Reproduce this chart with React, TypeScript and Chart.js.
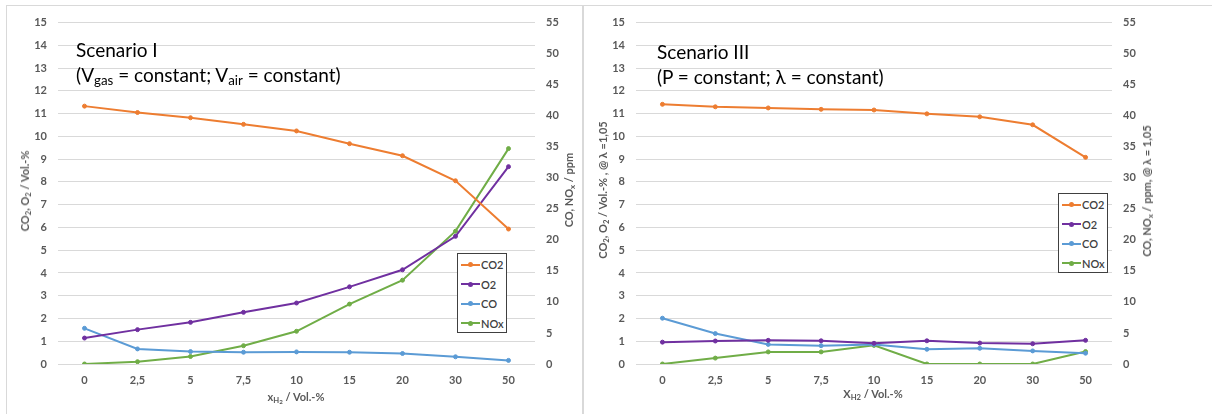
import React, { useEffect, useRef } from "react";
import { Chart, registerables } from "chart.js";
Chart.register(...registerables);

const categories = ["0", "2,5", "5", "7,5", "10", "15", "20", "30", "50"];

// Scenario I
const s1CO2 = [11.33, 11.05, 10.82, 10.53, 10.24, 9.68, 9.15, 8.05, 5.93];
const s1O2 = [1.14, 1.51, 1.83, 2.27, 2.68, 3.39, 4.14, 5.61, 8.67];
const s1CO = [5.75, 2.43, 2.0, 1.9, 1.95, 1.9, 1.69, 1.16, 0.58];
const s1NOx = [0, 0.37, 1.21, 2.95, 5.27, 9.65, 13.5, 21.4, 34.7];

// Scenario III
const s3CO2 = [11.41, 11.3, 11.25, 11.19, 11.16, 10.99, 10.86, 10.51, 9.08];
const s3O2 = [0.96, 1.01, 1.04, 1.02, 0.91, 1.02, 0.92, 0.89, 1.04];
const s3CO = [7.38, 4.9, 3.16, 2.95, 3.16, 2.37, 2.53, 2.11, 1.74];
const s3NOx = [0, 0.95, 1.95, 1.95, 3.0, 0, 0, 0, 2.0];

const seriesNames = ["CO2", "O2", "CO", "NOx"];
const seriesColors = ["#ED7D31", "#7030A0", "#5B9BD5", "#70AD47"];

const leftAxisMin = 0;
const leftAxisMax = 15;
const leftAxisStep = 1;
const rightAxisMin = 0;
const rightAxisMax = 55;
const rightAxisStep = 5;

const TICK_FONT = { family: "Lato", size: 11, weight: "bold" as const };
const TICK_COLOR = "#595959";

function makeConfig(co2: number[], o2: number[], co: number[], nox: number[], rightWidth: number) {
  const data = [co2, o2, co, nox];
  const axes = ["yL", "yL", "yR", "yR"];
  return {
    type: "line" as const,
    data: {
      labels: categories,
      datasets: data.map((d, i) => ({
        label: seriesNames[i],
        data: d,
        yAxisID: axes[i],
        borderColor: seriesColors[i],
        backgroundColor: seriesColors[i],
        pointBackgroundColor: seriesColors[i],
        pointBorderColor: seriesColors[i],
        borderWidth: 2,
        pointRadius: 2,
        pointBorderWidth: 1,
        tension: 0,
        fill: false,
      })),
    },
    options: {
      responsive: false,
      animation: false as const,
      devicePixelRatio: 1,
      layout: { padding: { top: 12, left: 0, right: 0, bottom: 0 } },
      plugins: { legend: { display: false }, tooltip: { enabled: false } },
      scales: {
        x: {
          type: "category" as const,
          offset: true,
          grid: { display: false, drawTicks: false },
          border: { display: false },
          ticks: { padding: 10, font: TICK_FONT, color: TICK_COLOR, maxRotation: 0, autoSkip: false },
          afterFit: (s: any) => {
            s.height = 50;
          },
        },
        yL: {
          type: "linear" as const,
          position: "left" as const,
          min: leftAxisMin,
          max: leftAxisMax,
          ticks: { stepSize: leftAxisStep, padding: 11, font: TICK_FONT, color: TICK_COLOR },
          grid: { color: "#D9D9D9", lineWidth: 1, drawTicks: false },
          border: { display: false },
          afterFit: (s: any) => {
            s.width = 52;
          },
        },
        yR: {
          type: "linear" as const,
          position: "right" as const,
          min: rightAxisMin,
          max: rightAxisMax,
          ticks: { stepSize: rightAxisStep, padding: 11, font: TICK_FONT, color: TICK_COLOR },
          grid: { display: false, drawTicks: false },
          border: { display: false },
          afterFit: (s: any) => {
            s.width = rightWidth;
          },
        },
      },
    },
  };
}

function ChartCanvas(props: { left: number; top: number; width: number; height: number; config: any }) {
  const ref = useRef<HTMLCanvasElement | null>(null);
  useEffect(() => {
    if (!ref.current) return;
    const chart = new Chart(ref.current, props.config);
    return () => chart.destroy();
  }, []);
  return (
    <canvas
      ref={ref}
      width={props.width}
      height={props.height}
      style={{ position: "absolute", left: props.left, top: props.top, width: props.width, height: props.height }}
    />
  );
}

function Legend(props: { left: number; top: number }) {
  return (
    <div
      style={{
        position: "absolute",
        left: props.left,
        top: props.top,
        width: 50,
        height: 80,
        border: "1px solid #404040",
        background: "#fff",
        boxSizing: "border-box",
        paddingTop: 1,
      }}
    >
      {seriesNames.map((n, i) => (
        <div key={n} style={{ height: 19.5, display: "flex", alignItems: "center", paddingLeft: 3 }}>
          <div style={{ position: "relative", width: 19, height: 2, background: seriesColors[i] }}>
            <div
              style={{
                position: "absolute",
                left: 7,
                top: -1.5,
                width: 5,
                height: 5,
                borderRadius: "50%",
                background: seriesColors[i],
              }}
            />
          </div>
          <span style={{ font: "11px Lato", fontWeight: 600, color: "#404040", marginLeft: 1 }}>{n}</span>
        </div>
      ))}
    </div>
  );
}

const titleStyle: React.CSSProperties = {
  position: "absolute",
  font: "bold 11px Lato",
  color: "#595959",
  whiteSpace: "nowrap",
  lineHeight: "14px",
};

function VTitle(props: { cx: number; cy: number; children: React.ReactNode }) {
  return (
    <div
      style={{
        ...titleStyle,
        left: props.cx,
        top: props.cy,
        transform: "translate(-50%, -50%) rotate(-90deg)",
      }}
    >
      {props.children}
    </div>
  );
}

function HTitle(props: { cx: number; cy: number; children: React.ReactNode }) {
  return (
    <div style={{ ...titleStyle, left: props.cx, top: props.cy, transform: "translate(-50%, -50%)" }}>
      {props.children}
    </div>
  );
}

const subS: React.CSSProperties = { fontSize: "0.7em", verticalAlign: "-0.25em", lineHeight: 0 };

function Scenario(props: { left: number; top: number; children: React.ReactNode }) {
  return (
    <div
      style={{
        position: "absolute",
        left: props.left,
        top: props.top,
        font: "19px Lato",
        color: "#000",
        lineHeight: "25px",
        whiteSpace: "nowrap",
      }}
    >
      {props.children}
    </div>
  );
}

export default function App() {
  const config1 = makeConfig(s1CO2, s1O2, s1CO, s1NOx, 48);
  const config3 = makeConfig(s3CO2, s3O2, s3CO, s3NOx, 100);
  return (
    <div style={{ position: "absolute", left: 0, top: 0, width: 1212, height: 414, overflow: "hidden", background: "#fff" }}>
      <div style={{ position: "absolute", left: 6, top: 5, width: 577, height: 420, border: "1px solid #D9D9D9", boxSizing: "border-box" }} />
      <div style={{ position: "absolute", left: 583, top: 5, width: 640, height: 420, border: "1px solid #D9D9D9", boxSizing: "border-box" }} />

      <ChartCanvas left={6} top={5} width={577} height={409} config={config1} />
      <ChartCanvas left={584} top={5} width={628} height={409} config={config3} />

      <Scenario left={76} top={37}>
        <div>Scenario I</div>
        <div>
          (V<sub style={subS}>gas</sub> = constant; V<sub style={subS}>air</sub> = constant)
        </div>
      </Scenario>
      <Scenario left={657} top={39}>
        <div>Scenario III</div>
        <div>(P = constant; λ = constant)</div>
      </Scenario>

      <VTitle cx={25} cy={191}>
        CO<sub style={subS}>2</sub>, O<sub style={subS}>2</sub> / Vol.-%
      </VTitle>
      <VTitle cx={569} cy={190}>
        CO, NO<sub style={subS}>x</sub> / ppm
      </VTitle>
      <HTitle cx={296} cy={397}>
        x<sub style={subS}>
          H<sub style={{ fontSize: "0.8em", verticalAlign: "-0.2em", lineHeight: 0 }}>2</sub>
        </sub>{" "}
        / Vol.-%
      </HTitle>

      <VTitle cx={603} cy={190}>
        CO<sub style={subS}>2</sub>, O<sub style={subS}>2</sub> / Vol.-% , @ λ =1,05
      </VTitle>
      <VTitle cx={1147} cy={191}>
        CO, NO<sub style={subS}>x</sub> / ppm, @ λ = 1,05
      </VTitle>
      <HTitle cx={873} cy={394}>
        X<sub style={subS}>H2</sub> / Vol.-%
      </HTitle>

      <Legend left={457} top={253} />
      <Legend left={1058} top={193} />
    </div>
  );
}
